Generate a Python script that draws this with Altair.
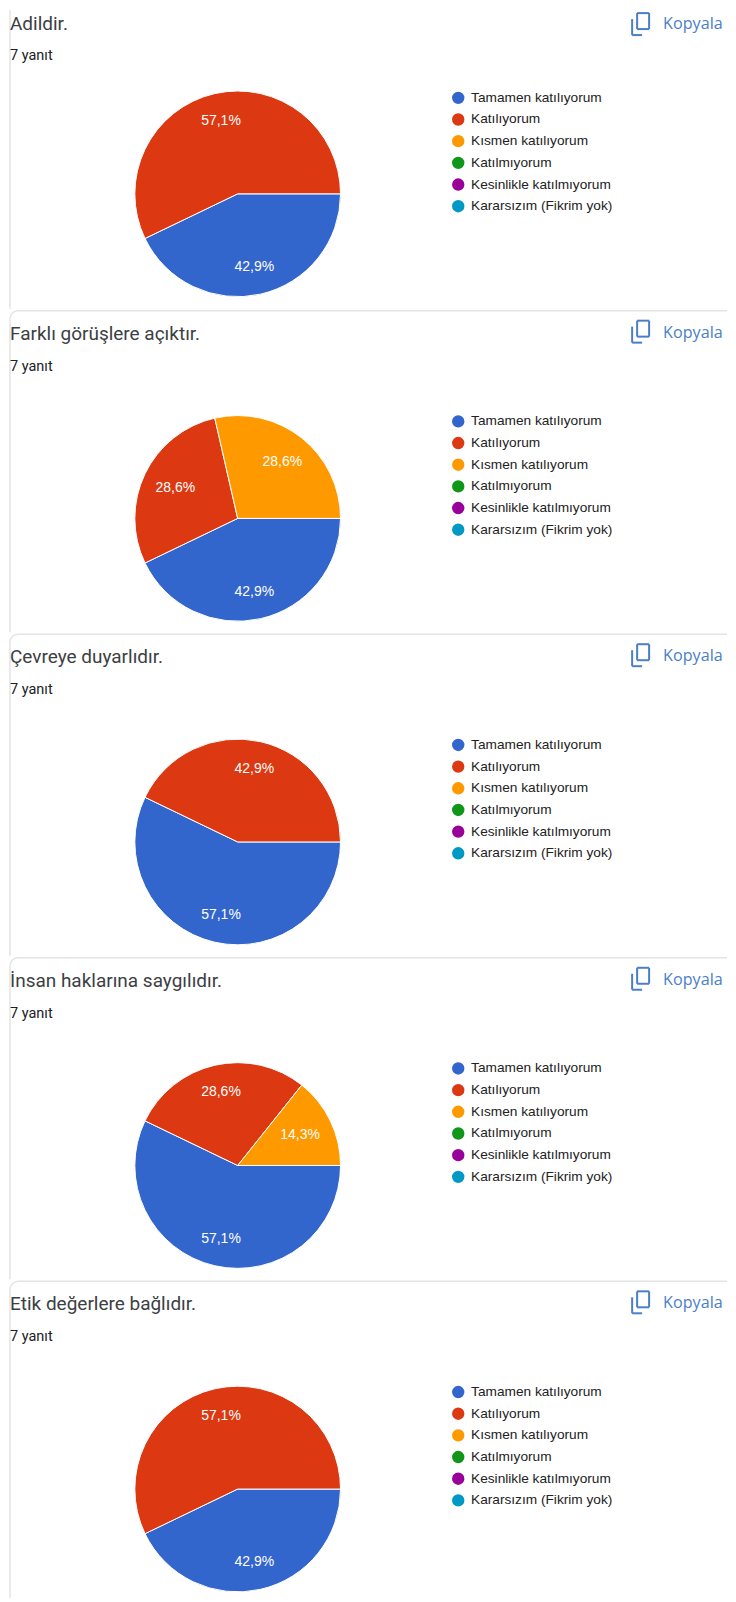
import math
import altair as alt
import pandas as pd

categories = ["Tamamen katılıyorum", "Katılıyorum", "Kısmen katılıyorum",
              "Katılmıyorum", "Kesinlikle katılmıyorum", "Kararsızım (Fikrim yok)"]
colors = ["#3366cc", "#dc3912", "#ff9900", "#109618", "#990099", "#0099c6"]
questions = ["Adildir.", "Farklı görüşlere açıktır.", "Çevreye duyarlıdır.",
             "İnsan haklarına saygılıdır.", "Etik değerlere bağlıdır."]
counts = [
    [3, 4, 0, 0, 0, 0],
    [3, 2, 2, 0, 0, 0],
    [4, 3, 0, 0, 0, 0],
    [4, 2, 1, 0, 0, 0],
    [3, 4, 0, 0, 0, 0],
]
percent_labels = [
    ["42,9%", "57,1%"],
    ["42,9%", "28,6%", "28,6%"],
    ["57,1%", "42,9%"],
    ["57,1%", "28,6%", "14,3%"],
    ["42,9%", "57,1%"],
]
responses = "7 yanıt"
copy_label = "Kopyala"

W = 720
panel_heights = [299, 322, 322, 322, 317]
ICON = "#4a7fc7"
BORDER = "#e3e4e6"
TEXT = "#3c4043"


def one():
    return alt.Chart(pd.DataFrame({"a": [0]}))


def txt(s, x, y, size, color, font, align="left"):
    return alt.Chart(pd.DataFrame({"t": [s]})).mark_text(
        align=align, baseline="middle", fontSize=size, color=color, font=font
    ).encode(text="t:N", x=alt.value(x), y=alt.value(y))


def seg(x, x2, y, y2, color=ICON, sw=2):
    return one().mark_rule(color=color, strokeWidth=sw).encode(
        x=alt.value(x), x2=alt.value(x2), y=alt.value(y), y2=alt.value(y2))


def panel(i):
    h = panel_heights[i]
    first = i == 0
    cy = 184 if first else 208
    title_y = 14 if first else 23
    sub_y = 46 if first else 56
    copy_y = 14 if first else 22
    legend_y = 81 if first else 104
    icon_y = 3 if first else 10

    rows = [(k, categories[k], v) for k, v in enumerate(counts[i]) if v > 0]
    df = pd.DataFrame(rows, columns=["o", "cat", "v"])
    df["lab"] = percent_labels[i]
    total = df["v"].sum()
    df["mid"] = (df["v"].cumsum() - df["v"] / 2) / total * 2 * math.pi + math.pi / 2
    # side labels sit closer to the centre, because their box must fit inside the slice
    df["r"] = [77 - 8.5 * abs(math.sin(m)) for m in df["mid"]]

    theta = alt.Theta("v:Q", stack=True,
                      scale=alt.Scale(range=[math.pi / 2, math.pi / 2 + 2 * math.pi]))
    color = alt.Color(
        "cat:N",
        scale=alt.Scale(domain=categories, range=colors),
        legend=alt.Legend(
            title=None, orient="none", legendX=444, legendY=legend_y, padding=0,
            symbolType="circle", symbolSize=154, symbolStrokeWidth=0,
            labelFont="Liberation Sans", labelFontSize=13.7, labelColor="#222222",
            labelOffset=6, rowPadding=6.7, labelLimit=260,
        ),
    )
    base = alt.Chart(df)
    pie = base.mark_arc(outerRadius=103, stroke="#ffffff", strokeWidth=1).encode(
        theta=theta, color=color, order=alt.Order("o:Q"),
        x=alt.value(230), y=alt.value(cy))
    labels = base.mark_text(fontSize=14, font="Liberation Sans",
                            color="#ffffff", baseline="middle", align="center").encode(
        theta=alt.Theta("mid:Q", scale=None, stack=None),
        radius=alt.Radius("r:Q", scale=None),
        text="lab:N",
        x=alt.value(230), y=alt.value(cy))

    layers = []
    if first:
        layers.append(seg(2, 2, 0, h, BORDER, 1.5))
    else:
        layers += [
            seg(10, W, 0, 0, BORDER, 1.5),
            seg(2, 2, 8, h, BORDER, 1.5),
            one().mark_arc(innerRadius=7.25, outerRadius=8.75, theta=1.5 * math.pi,
                           theta2=2 * math.pi, color=BORDER).encode(
                x=alt.value(10), y=alt.value(8)),
        ]
    layers += [
        txt(questions[i], 2, title_y, 19, TEXT, "Roboto"),
        txt(responses, 2, sub_y, 14.5, "#202124", "Roboto"),
        txt(copy_label, 656, copy_y, 16.2, ICON, "Open Sans"),
        seg(625, 625, icon_y + 6, icon_y + 22),
        seg(625, 635, icon_y + 22, icon_y + 22),
        seg(630, 642, icon_y, icon_y),
        seg(630, 642, icon_y + 16, icon_y + 16),
        seg(630, 630, icon_y, icon_y + 16),
        seg(642, 642, icon_y, icon_y + 16),
        pie,
        labels,
    ]
    return alt.layer(*layers).resolve_scale(theta="independent").properties(width=W, height=h)


chart = alt.vconcat(*[panel(i) for i in range(5)], spacing=0).resolve_scale(
    color="independent"
).properties(padding=0, background="#ffffff").configure_view(stroke=None).configure_concat(spacing=0)

chart.save("out.html", embed_options={"renderer": "svg", "actions": False})
